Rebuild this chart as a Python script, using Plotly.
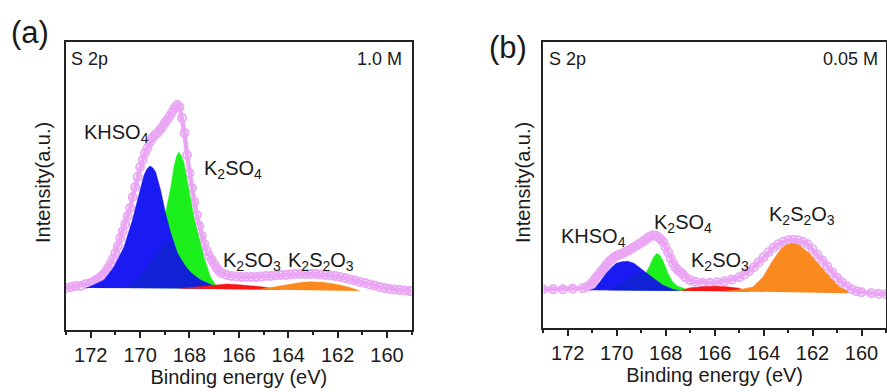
import plotly.graph_objects as go

# ---------------- Panel (a): 1.0 M ----------------
a_env_x = [173.0, 172.8, 172.6, 172.4, 172.2, 172.0, 171.9, 171.8, 171.7, 171.6, 171.5, 171.4, 171.3,
           171.2, 171.1, 171.0, 170.9, 170.8, 170.7, 170.6, 170.5, 170.4, 170.3, 170.2, 170.1, 170.0,
           169.9, 169.8, 169.7, 169.6, 169.5, 169.4, 169.3, 169.2, 169.1, 169.0, 168.9, 168.8, 168.7,
           168.6, 168.5, 168.4, 168.3, 168.2, 168.1, 168.0, 167.9, 167.8, 167.7, 167.6, 167.5, 167.4,
           167.3, 167.2, 167.1, 167.0, 166.9, 166.8, 166.7, 166.5, 166.3, 166.1, 165.9, 165.7, 165.5,
           165.3, 165.1, 164.9, 164.7, 164.5, 164.3, 164.1, 163.9, 163.7, 163.5, 163.3, 163.1, 162.9,
           162.7, 162.5, 162.3, 162.1, 161.9, 161.7, 161.5, 161.3, 161.1, 160.9, 160.7, 160.5, 160.3,
           160.1, 159.9, 159.7, 159.5, 159.3, 159.1, 159.0]
a_env_y = [0, 1, 2, 2, 4, 5, 6, 8, 9, 11, 13, 16, 20,
           24, 29, 35, 42, 50, 57, 64, 72, 80, 91, 101, 111, 121,
           128, 135, 140, 146, 150, 153, 155, 158, 161, 165, 168, 172, 176,
           180, 183, 181, 170, 155, 133, 115, 100, 86, 73, 62, 52, 44,
           37, 32, 28, 24, 20, 17, 15, 13, 12, 11.5, 11, 11, 11,
           11, 11.5, 12, 12, 12.5, 13, 13, 13.5, 14, 14, 14, 14, 14,
           13.5, 13, 12.5, 12, 11, 10, 8.5, 7.5, 6, 5, 3.5, 2.5, 1,
           0, -1, -1.5, -2, -2.5, -3, -3]

a_blue_x = [172.2, 172.07, 171.8, 171.46, 171.06, 170.65, 170.31, 170.04, 169.84, 169.72, 169.6,
            169.48, 169.37, 169.17, 168.97, 168.76, 168.49, 168.09, 167.55, 167.0, 166.5]
a_blue_y = [0, 1, 4, 8, 21, 41, 68, 95, 113, 119, 122,
            120, 116, 98, 75, 55, 35, 18, 8, 2, -0.5]

a_blue2_x = [170.6, 170.2, 169.8, 169.4, 169.1, 168.9, 168.7, 168.49, 168.2, 167.9, 167.55, 167.2, 166.8]
a_blue2_y = [0, 7, 18, 32, 42, 46, 44, 34, 23, 14, 7, 2.5, -0.5]

a_green_x = [170.2, 169.9, 169.5, 169.2, 168.97, 168.76, 168.63, 168.52, 168.43, 168.33, 168.22,
             168.02, 167.82, 167.62, 167.42, 167.15, 166.94, 166.7]
a_green_y = [0, 5, 20, 45, 75, 100, 121, 132, 136, 132, 125,
             98, 71, 51, 31, 11, 3, -0.5]

a_red_x = [168.4, 167.8, 167.2, 166.8, 166.47, 166.0, 165.5, 165.0, 164.3]
a_red_y = [-0.5, 1, 2.5, 3.5, 4, 3.3, 2.2, 1, -2]

a_orange_x = [165.2, 164.6, 164.0, 163.5, 163.1, 162.6, 162.0, 161.5, 161.1]
a_orange_y = [-1.5, 1, 3.5, 5.5, 6.3, 5.7, 3.5, 0.5, -3]

# ---------------- Panel (b): 0.05 M ----------------
b_env_x = [173.0, 172.6, 172.2, 171.8, 171.4, 171.2, 171.1, 171.0, 170.9, 170.8, 170.7, 170.6, 170.5,
           170.4, 170.3, 170.2, 170.1, 170.0, 169.9, 169.8, 169.7, 169.6, 169.5, 169.4, 169.3, 169.2,
           169.1, 169.0, 168.9, 168.8, 168.7, 168.6, 168.5, 168.4, 168.3, 168.2, 168.1, 168.0, 167.9,
           167.8, 167.7, 167.6, 167.5, 167.4, 167.3, 167.2, 167.0, 166.8, 166.5, 166.2, 165.9, 165.6,
           165.3, 165.0, 164.8, 164.6, 164.4, 164.2, 164.0, 163.8, 163.6, 163.4, 163.2, 163.0, 162.8,
           162.6, 162.4, 162.2, 162.0, 161.8, 161.6, 161.4, 161.2, 161.0, 160.8, 160.6, 160.4, 160.2,
           160.0, 159.6, 159.3, 159.0]
b_env_y = [1, 1, 1, 1.5, 2, 3.5, 5, 8, 11, 14, 17, 20, 23,
           26, 29, 31, 33, 34.5, 35.5, 36.5, 37.5, 39, 40, 41.5, 43, 44.5,
           46, 47.5, 49, 51, 53, 54, 55, 54.5, 53, 51, 48, 43, 38,
           32, 27, 23, 20, 18, 16, 13, 10, 8.5, 7.5, 7.5, 8, 9,
           10.5, 13, 15.5, 19, 23, 28, 33, 38, 42.5, 46, 48.5, 50, 50.5,
           50, 48.5, 46, 41, 35.5, 30, 24, 18, 12.5, 8, 4, 1, -1,
           -2, -3, -3.5, -4]

b_blue_x = [171.1, 170.91, 170.7, 170.43, 170.2, 170.02, 169.8, 169.55, 169.3, 169.07, 168.86,
            168.66, 168.4, 168.12, 167.71, 167.4]
b_blue_y = [0, 1.7, 8, 17, 23, 27, 28.5, 29, 27, 23, 19,
            15, 10, 5, 1, -0.5]

b_blue2_x = [170.3, 170.0, 169.7, 169.4, 169.1, 168.86, 168.66, 168.4, 168.12, 167.9, 167.6]
b_blue2_y = [0, 4, 9, 14, 17, 17, 14.5, 10, 5, 2.5, -0.5]

b_green_x = [169.6, 169.3, 169.0, 168.82, 168.66, 168.5, 168.36, 168.25, 168.12, 167.91, 167.71,
             167.5, 167.3, 167.0]
b_green_y = [0, 3, 9, 17, 24, 33, 37, 35, 30, 17, 8,
             4, 2, -0.5]

b_red_x = [167.4, 167.0, 166.5, 166.0, 165.5, 165.0, 164.6]
b_red_y = [-0.5, 2.5, 3.5, 4, 3.5, 2, -1.5]

b_orange_x = [165.6, 165.0, 164.44, 164.03, 163.62, 163.28, 163.05, 162.87, 162.7, 162.53, 162.12,
              161.71, 161.3, 160.9, 160.56, 160.56]
b_orange_y = [-1, 0.5, 3.3, 13, 30, 41.7, 45.5, 46.7, 46.5, 45, 36.7,
              25, 13.3, 3.3, -1, -3]

# ---------------- styling ----------------
ENV = '#EAA6F4'
BLUE = '#1A1AF2'
BLUE2 = '#1122D6'
GREEN = '#1CF01C'
RED = '#F51616'
ORANGE = '#FA8A1E'
FONT = 'Liberation Sans, Arial, sans-serif'
TXT = '#1a1a1a'

fig = go.Figure()


def add_panel(xa, ya, env_x, env_y, peaks):
    fig.add_trace(go.Scatter(x=env_x, y=env_y, mode='lines+markers', xaxis=xa, yaxis=ya,
                             line=dict(color=ENV, width=4.5),
                             marker=dict(symbol='circle-open', size=8, color=ENV,
                                         line=dict(width=1.8, color=ENV)),
                             showlegend=False, hoverinfo='skip'))
    for px_, py_, col in peaks:
        fig.add_trace(go.Scatter(x=px_, y=py_, mode='lines', fill='toself', fillcolor=col,
                                 line=dict(color=col, width=0.5), xaxis=xa, yaxis=ya,
                                 showlegend=False, hoverinfo='skip'))


add_panel('x', 'y', a_env_x, a_env_y,
          [(a_green_x, a_green_y, GREEN), (a_blue_x, a_blue_y, BLUE), (a_blue2_x, a_blue2_y, BLUE2),
           (a_red_x, a_red_y, RED), (a_orange_x, a_orange_y, ORANGE)])
add_panel('x2', 'y2', b_env_x, b_env_y,
          [(b_green_x, b_green_y, GREEN), (b_blue_x, b_blue_y, BLUE), (b_blue2_x, b_blue2_y, BLUE2),
           (b_red_x, b_red_y, RED), (b_orange_x, b_orange_y, ORANGE)])

W, H = 887, 392


def px(v):
    return v / W


def py(v):
    return 1 - v / H


xcommon = dict(range=[173, 159], showline=True, linewidth=2, linecolor='#222', mirror=True,
               ticks='outside', ticklen=6, tickwidth=1.5, tickcolor='#222', tick0=160, dtick=2,
               minor=dict(dtick=1, ticks='outside', ticklen=3, tickwidth=1.5, tickcolor='#222'),
               showgrid=False, zeroline=False,
               tickfont=dict(family=FONT, size=20, color=TXT),
               title=dict(text='Binding energy (eV)', font=dict(family=FONT, size=20, color=TXT),
                          standoff=4))
ycommon = dict(showline=True, linewidth=2, linecolor='#222', mirror=True, ticks='',
               showticklabels=False, showgrid=False, zeroline=False)

fig.update_layout(
    width=W, height=H, margin=dict(l=0, r=0, t=0, b=0),
    paper_bgcolor='white', plot_bgcolor='white',
    xaxis=dict(xcommon, domain=[px(66), px(411.7)], anchor='y'),
    yaxis=dict(ycommon, domain=[py(330), py(42)], range=[-42, 246], anchor='x'),
    xaxis2=dict(xcommon, domain=[px(543.3), px(886)], anchor='y2'),
    yaxis2=dict(ycommon, domain=[py(328.3), py(42)], range=[-38, 248], anchor='x2'),
)

ann = []


def text(x, y, s, size, xanchor='left', angle=0):
    ann.append(dict(x=px(x), y=py(y), xref='paper', yref='paper', text=s, showarrow=False,
                    xanchor=xanchor, yanchor='middle', textangle=angle,
                    font=dict(family=FONT, size=size, color=TXT)))


text(30, 33, '(a)', 31, 'center')
text(508, 47, '(b)', 31, 'center')
text(43, 183, 'Intensity(a.u.)', 20, 'center', -90)
text(523, 183, 'Intensity(a.u.)', 20, 'center', -90)
text(69, 59, 'S 2p', 18, 'left')
text(404, 59, '1.0 M', 18, 'right')
text(547, 59, 'S 2p', 18, 'left')
text(880, 59, '0.05 M', 18, 'right')
# panel a labels
text(82, 133, 'KHSO<sub>4</sub>', 20)
text(202, 169, 'K<sub>2</sub>SO<sub>4</sub>', 20)
text(221, 261, 'K<sub>2</sub>SO<sub>3</sub>', 20)
text(286, 261, 'K<sub>2</sub>S<sub>2</sub>O<sub>3</sub>', 20)
# panel b labels
text(559, 237, 'KHSO<sub>4</sub>', 20)
text(652, 223, 'K<sub>2</sub>SO<sub>4</sub>', 20)
text(689, 261, 'K<sub>2</sub>SO<sub>3</sub>', 20)
text(767, 216, 'K<sub>2</sub>S<sub>2</sub>O<sub>3</sub>', 20)

fig.update_layout(annotations=ann)
fig.write_html('out.html')
